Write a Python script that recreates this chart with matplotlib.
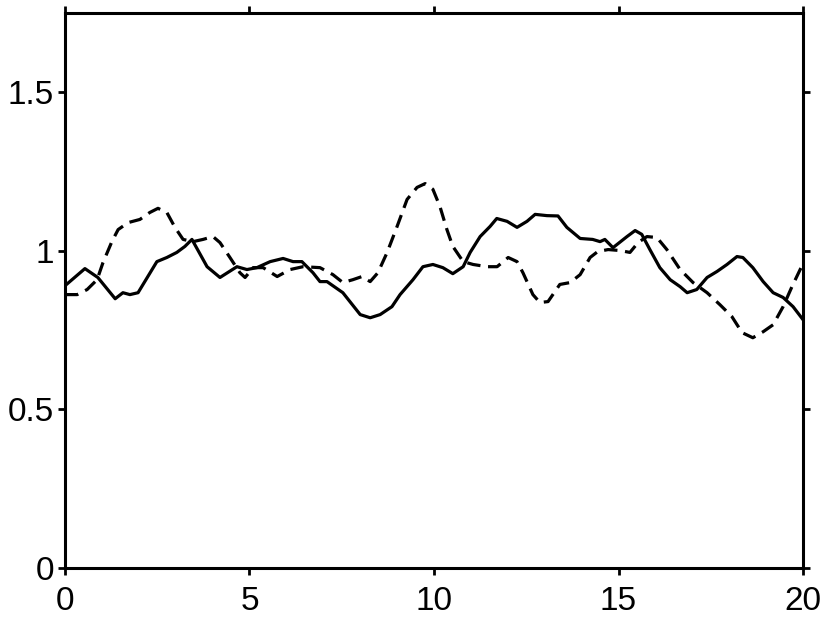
import matplotlib
matplotlib.use("Agg")
import matplotlib.pyplot as plt
from matplotlib.ticker import FormatStrFormatter

plt.rcParams['font.family'] = ['Liberation Sans', 'DejaVu Sans']

# solid curve
x_solid = [0, 0.54, 0.89, 1.36, 1.57, 1.76, 1.98, 2.49, 2.76, 3.03, 3.25, 3.44,
           3.85, 4.2, 4.66, 4.93, 5.2, 5.56, 5.91, 6.18, 6.42, 6.72, 6.91, 7.1,
           7.53, 8.0, 8.27, 8.54, 8.86, 9.08, 9.43, 9.70, 9.97, 10.24, 10.51,
           10.79, 10.98, 11.25, 11.52, 11.7, 11.98, 12.25, 12.52, 12.74, 13.06,
           13.36, 13.6, 13.96, 14.3, 14.5, 14.63, 14.85, 15.23, 15.45, 15.63,
           15.85, 16.12, 16.40, 16.67, 16.86, 17.12, 17.4, 17.67, 17.94, 18.21,
           18.37, 18.64, 18.92, 19.19, 19.46, 19.73, 20]
y_solid = [0.89, 0.944, 0.916, 0.849, 0.868, 0.862, 0.868, 0.966, 0.979, 0.995,
           1.014, 1.036, 0.950, 0.916, 0.950, 0.941, 0.947, 0.966, 0.976, 0.966,
           0.966, 0.931, 0.903, 0.903, 0.868, 0.799, 0.789, 0.799, 0.824, 0.862,
           0.909, 0.950, 0.957, 0.947, 0.928, 0.950, 0.995, 1.045, 1.077, 1.102,
           1.093, 1.074, 1.093, 1.115, 1.111, 1.11, 1.074, 1.039, 1.036, 1.029,
           1.036, 1.010, 1.045, 1.064, 1.052, 1.004, 0.947, 0.909, 0.887, 0.868,
           0.878, 0.916, 0.935, 0.957, 0.982, 0.979, 0.947, 0.903, 0.868, 0.853,
           0.824, 0.783]

# dashed curve
x_dash = [0, 0.33, 0.6, 0.87, 1.03, 1.27, 1.44, 1.71, 2.03, 2.3, 2.52, 2.76,
          2.98, 3.2, 3.47, 3.74, 4.01, 4.2, 4.47, 4.74, 4.88, 5.1, 5.37, 5.75,
          6.1, 6.45, 6.91, 7.26, 7.53, 7.80, 8.05, 8.27, 8.48, 8.73, 9.0, 9.27,
          9.54, 9.76, 9.97, 10.16, 10.35, 10.51, 10.79, 11.06, 11.44, 11.71,
          12.01, 12.25, 12.41, 12.68, 12.87, 13.09, 13.41, 13.69, 13.96, 14.23,
          14.44, 14.72, 15.04, 15.31, 15.53, 15.77, 16.04, 16.31, 16.67, 17.02,
          17.4, 17.75, 18.07, 18.35, 18.64, 18.92, 19.19, 19.46, 19.7, 20]
y_dash = [0.862, 0.862, 0.878, 0.909, 0.963, 1.029, 1.067, 1.089, 1.099, 1.121,
          1.134, 1.121, 1.074, 1.036, 1.029, 1.036, 1.045, 1.026, 0.979, 0.931,
          0.916, 0.947, 0.947, 0.919, 0.941, 0.950, 0.947, 0.925, 0.900, 0.909,
          0.919, 0.903, 0.931, 0.995, 1.077, 1.162, 1.200, 1.212, 1.194, 1.140,
          1.067, 1.014, 0.966, 0.957, 0.950, 0.950, 0.979, 0.966, 0.931, 0.862,
          0.837, 0.840, 0.894, 0.900, 0.925, 0.979, 0.998, 1.004, 1.001, 0.995,
          1.026, 1.045, 1.042, 1.004, 0.941, 0.900, 0.868, 0.830, 0.793, 0.742,
          0.726, 0.745, 0.767, 0.824, 0.887, 0.96]

x_ticks = [0, 5, 10, 15, 20]
y_ticks = [0, 0.5, 1, 1.5]

fig = plt.figure(figsize=(8.3, 6.17), dpi=100)
ax = fig.add_axes([0.0783, 0.0794, 0.8892, 0.8996])

ax.plot(x_solid, y_solid, color='black', lw=2.3)
ax.plot(x_dash, y_dash, color='black', lw=2.3, ls=(0, (4.2, 2.4)))

ax.set_xlim(0, 20)
ax.set_ylim(0, 1.75)
ax.set_xticks(x_ticks)
ax.set_yticks(y_ticks)
ax.yaxis.set_major_formatter(FormatStrFormatter('%g'))

for s in ax.spines.values():
    s.set_linewidth(2.2)

ax.tick_params(direction='out', length=5, width=2, labelsize=24,
               top=True, right=True)
ax.tick_params(axis='x', pad=8)
ax.tick_params(axis='y', pad=3)

fig.savefig("out.png", dpi=100)
